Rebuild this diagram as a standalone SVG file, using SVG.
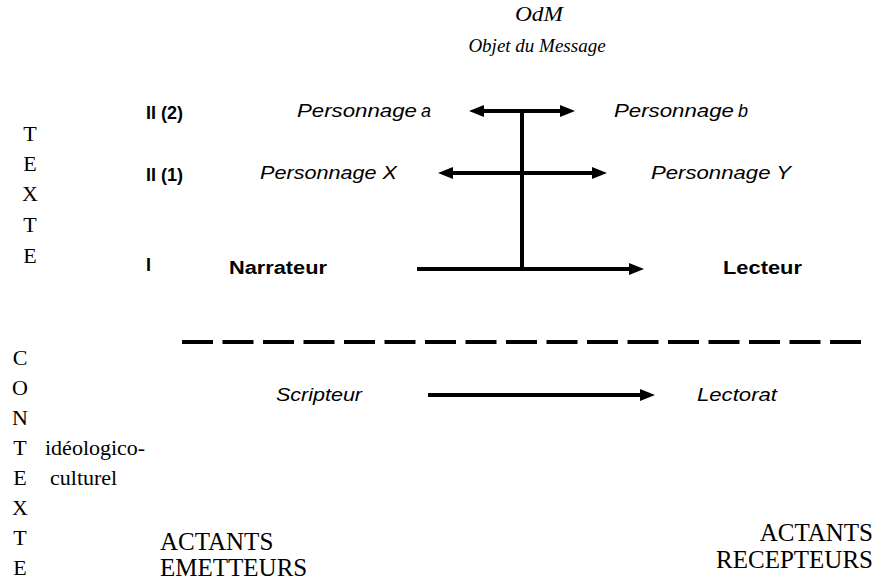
<svg xmlns="http://www.w3.org/2000/svg" width="875" height="581" viewBox="0 0 875 581">
<style>
.serif{font-family:"Liberation Serif","Times New Roman",serif;fill:#000}
.ital{font-style:italic}
.sans{font-family:"Liberation Sans",Arial,sans-serif;font-size:18px;fill:#000}
.b{font-weight:bold}
.vert{font-size:22px;text-anchor:middle}
.act{font-size:25px}
.ln{stroke:#000;stroke-width:4;fill:none}
</style>
<defs>
<marker id="ah" markerUnits="userSpaceOnUse" markerWidth="16" markerHeight="12" refX="7" refY="6" orient="auto-start-reverse">
<path d="M0,0 L15,6 L0,12 z" fill="#000"/>
</marker>
</defs>
<rect width="875" height="581" fill="#fff"/>

<g id="odm">
<text class="serif ital" x="539" y="21" font-size="20" text-anchor="middle" textLength="48" lengthAdjust="spacingAndGlyphs">OdM</text>
<text class="serif ital" x="537" y="52" font-size="19" text-anchor="middle">Objet du Message</text>
</g>

<g id="texte">
<text class="serif vert" x="30" y="141">T</text>
<text class="serif vert" x="30" y="171">E</text>
<text class="serif vert" x="30" y="201">X</text>
<text class="serif vert" x="30" y="232">T</text>
<text class="serif vert" x="30" y="263">E</text>
</g>

<g id="contexte">
<text class="serif vert" x="20" y="365">C</text>
<text class="serif vert" x="20" y="395">O</text>
<text class="serif vert" x="20" y="425">N</text>
<text class="serif vert" x="20" y="455">T</text>
<text class="serif vert" x="20" y="485">E</text>
<text class="serif vert" x="20" y="515">X</text>
<text class="serif vert" x="20" y="545">T</text>
<text class="serif vert" x="20" y="575">E</text>
<text class="serif" x="45" y="455" font-size="22">idéologico-</text>
<text class="serif" x="50" y="485" font-size="22">culturel</text>
</g>

<g id="levels">
<text class="sans b" x="146" y="119" font-size="15" textLength="37" lengthAdjust="spacingAndGlyphs">II (2)</text>
<text class="sans b" x="146" y="181" font-size="15" textLength="37" lengthAdjust="spacingAndGlyphs">II (1)</text>
<text class="sans b" x="146" y="271" font-size="16">I</text>
</g>

<g id="personnage-a">
<text class="sans ital" x="297" y="117" textLength="120" lengthAdjust="spacingAndGlyphs">Personnage</text>
<text class="sans ital" x="421" y="117" font-size="14">a</text>
</g>
<g id="personnage-b">
<text class="sans ital" x="614" y="117" textLength="120" lengthAdjust="spacingAndGlyphs">Personnage</text>
<text class="sans ital" x="738" y="117" font-size="14">b</text>
</g>
<g id="personnage-x">
<text class="sans ital" x="260" y="179" textLength="137" lengthAdjust="spacingAndGlyphs">Personnage X</text>
</g>
<g id="personnage-y">
<text class="sans ital" x="651" y="179" textLength="140" lengthAdjust="spacingAndGlyphs">Personnage Y</text>
</g>
<g id="narrateur">
<text class="sans b" x="229" y="274" textLength="98" lengthAdjust="spacingAndGlyphs">Narrateur</text>
</g>
<g id="lecteur">
<text class="sans b" x="723" y="274" textLength="79" lengthAdjust="spacingAndGlyphs">Lecteur</text>
</g>
<g id="scripteur">
<text class="sans ital" x="276" y="401" textLength="86" lengthAdjust="spacingAndGlyphs">Scripteur</text>
</g>
<g id="lectorat">
<text class="sans ital" x="697" y="401" textLength="80" lengthAdjust="spacingAndGlyphs">Lectorat</text>
</g>

<g id="emetteurs">
<text class="serif act" x="160" y="550" style="font-family:'Liberation Serif','Times New Roman',serif">ACTANTS</text>
<text class="serif act" x="160" y="576" style="font-family:'Liberation Serif','Times New Roman',serif">EMETTEURS</text>
</g>
<g id="recepteurs">
<text class="serif act" x="873" y="541" text-anchor="end" style="font-family:'Liberation Serif','Times New Roman',serif">ACTANTS</text>
<text class="serif act" x="873" y="568" text-anchor="end" style="font-family:'Liberation Serif','Times New Roman',serif">RECEPTEURS</text>
</g>

<g id="connectors">
<line class="ln" x1="477" y1="111" x2="567" y2="111" marker-start="url(#ah)" marker-end="url(#ah)"/>
<line class="ln" x1="446" y1="173" x2="599" y2="173" marker-start="url(#ah)" marker-end="url(#ah)"/>
<line class="ln" x1="522" y1="109" x2="522" y2="269"/>
<line class="ln" x1="417" y1="269" x2="636" y2="269" marker-end="url(#ah)"/>
<line class="ln" x1="428" y1="395" x2="647" y2="395" marker-end="url(#ah)"/>
<line class="ln" x1="182" y1="342" x2="866" y2="342" stroke-dasharray="31 9.5"/>
</g>
</svg>
